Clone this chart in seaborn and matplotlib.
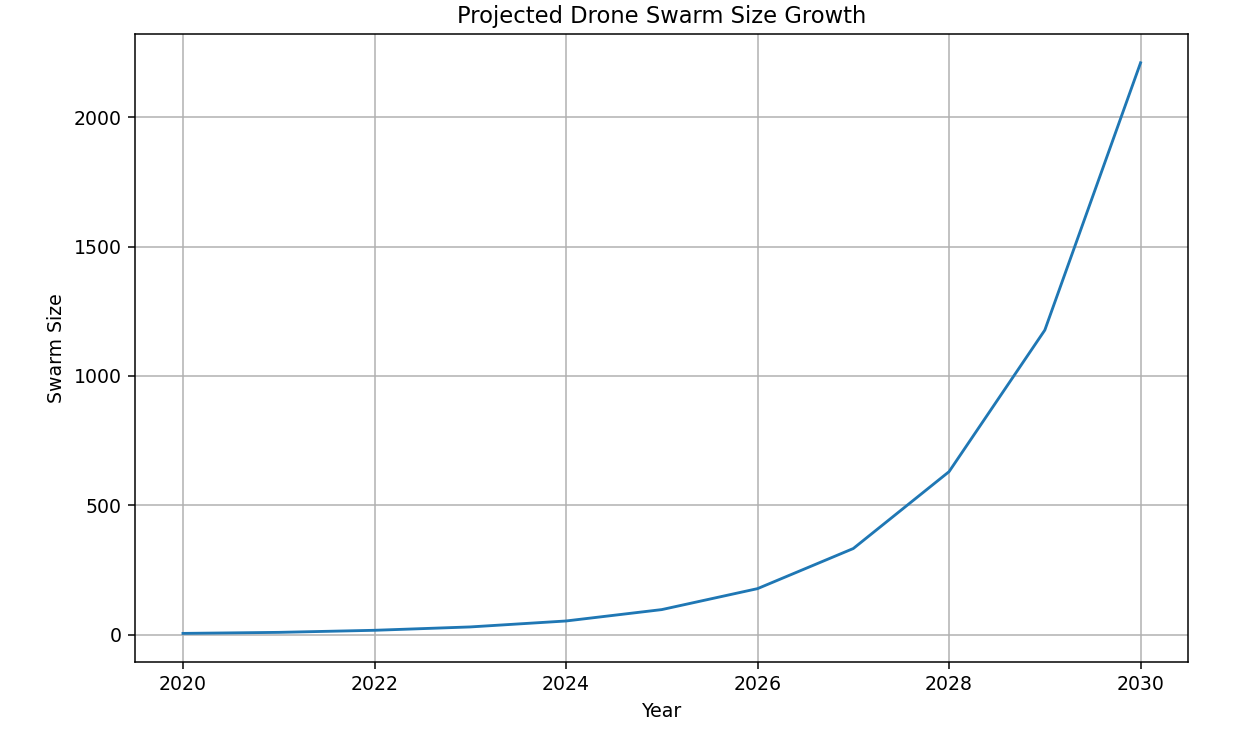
import matplotlib
matplotlib.use("Agg")
import matplotlib.pyplot as plt
import seaborn as sns

years = [2020, 2021, 2022, 2023, 2024, 2025, 2026, 2027, 2028, 2029, 2030]
swarm_size = [5, 9, 17, 30, 53, 97, 178, 333, 630, 1177, 2210]

dpi = 136
fig, ax = plt.subplots(figsize=(1251 / dpi, 729 / dpi), dpi=dpi)
fig.subplots_adjust(left=0.108, right=0.950, top=0.953, bottom=0.092)

sns.lineplot(x=years, y=swarm_size, ax=ax, color='#1f77b4')
ax.set_title('Projected Drone Swarm Size Growth')
ax.set_xlabel('Year')
ax.set_ylabel('Swarm Size')
ax.grid(True)

fig.savefig('out.png', dpi=dpi)
